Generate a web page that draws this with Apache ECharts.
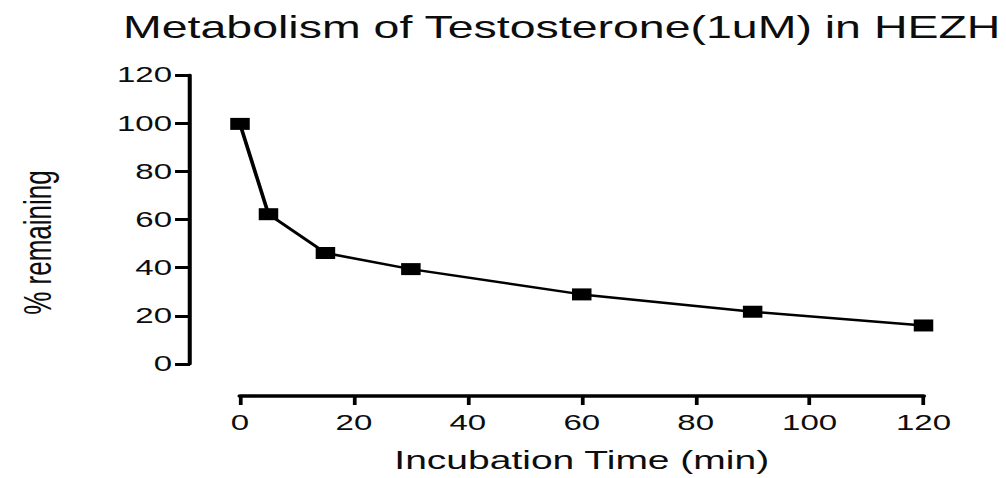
<!DOCTYPE html>
<html>
<head>
<meta charset="utf-8">
<script src="https://cdn.jsdelivr.net/npm/echarts@6/dist/echarts.min.js"></script>
<style>
  html, body { margin: 0; padding: 0; background: #fff; overflow: hidden; }
  /* the source picture is stretched sideways, so draw narrow and stretch it the same way */
  #main { width: 670.67px; height: 478px; transform: scaleX(1.5); transform-origin: 0 0; }
</style>
</head>
<body>
<div id="main"></div>
<script>
// incubation time (min) and % remaining
const times = [0, 5, 15, 30, 60, 90, 120];
const remaining = [99.7, 62.2, 46.1, 39.4, 28.9, 21.7, 16.0];
const xTicks = { min: 0, max: 120, step: 20 };
const yTicks = { min: 0, max: 120, step: 20 };

const chart = echarts.init(document.getElementById('main'), null, { renderer: 'svg' });

const font = 'Liberation Sans, Arial, sans-serif';
const ink = '#0d0d0d';

const option = {
  animation: false,
  backgroundColor: '#fff',
  title: {
    text: 'Metabolism of Testosterone(1uM) in HEZH',
    left: 82,
    top: 12,
    padding: 0,
    textStyle: { color: ink, fontFamily: font, fontSize: 31, fontWeight: 'normal' }
  },
  grid: { left: 160, right: 55.33, top: 75, bottom: 108 },
  xAxis: {
    type: 'value',
    min: xTicks.min,
    max: xTicks.max,
    interval: xTicks.step,
    offset: 32,
    name: 'Incubation Time (min)',
    nameLocation: 'middle',
    nameGap: 51,
    nameTextStyle: { color: ink, fontFamily: font, fontSize: 26 },
    axisLine: { show: true, onZero: false, lineStyle: { color: '#000', width: 3.5 } },
    axisTick: { show: true, length: 9, lineStyle: { color: '#000', width: 2.5 } },
    axisLabel: { color: ink, fontFamily: font, fontSize: 22, margin: 16 },
    splitLine: { show: false }
  },
  yAxis: {
    type: 'value',
    min: yTicks.min,
    max: yTicks.max,
    interval: yTicks.step,
    offset: 33.3,
    name: '% remaining',
    nameLocation: 'middle',
    nameGap: 89,
    nameRotate: 90,
    nameTextStyle: { color: ink, fontFamily: font, fontSize: 26, padding: [0, 46, 0, 0] },
    axisLine: { show: true, onZero: false, lineStyle: { color: '#000', width: 2.7 } },
    axisTick: { show: true, length: 10, lineStyle: { color: '#000', width: 3 } },
    axisLabel: { color: ink, fontFamily: font, fontSize: 22, margin: 12 },
    splitLine: { show: false }
  },
  series: [{
    type: 'line',
    data: times.map((t, i) => [t, remaining[i]]),
    symbol: 'rect',
    symbolSize: [13, 12],
    clip: false,
    lineStyle: { color: '#000', width: 2.5 },
    itemStyle: { color: '#000' }
  }]
};

chart.setOption(option);
</script>
</body>
</html>
